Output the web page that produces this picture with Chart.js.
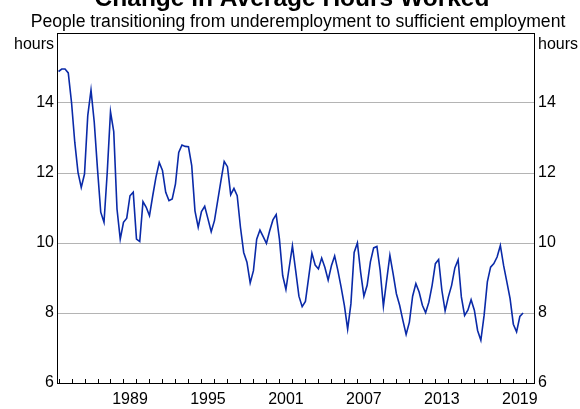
<!DOCTYPE html>
<html>
<head>
<meta charset="utf-8">
<script src="https://cdn.jsdelivr.net/npm/chart.js@4.4.0/dist/chart.umd.min.js"></script>
<style>
  html, body { margin: 0; padding: 0; background: #fff; }
</style>
</head>
<body>
<canvas id="chart" width="580" height="409"></canvas>
<script>
// Quarterly series, March quarter 1984 to December quarter 2019
const firstYear = 1984;
const hours = [
  14.90, 14.97, 14.97, 14.86, 14.02, 12.88, 12.02, 11.59, 11.97, 13.64,
  14.37, 13.45, 12.11, 10.88, 10.59, 12.02, 13.75, 13.18, 10.97, 10.11,
  10.59, 10.71, 11.35, 11.45, 10.11, 10.04, 11.18, 11.02, 10.78, 11.35,
  11.88, 12.30, 12.07, 11.45, 11.21, 11.26, 11.69, 12.59, 12.80, 12.76,
  12.75, 12.21, 10.92, 10.45, 10.90, 11.05, 10.69, 10.32, 10.64, 11.21,
  11.78, 12.33, 12.18, 11.38, 11.56, 11.35, 10.45, 9.73, 9.45, 8.86,
  9.21, 10.11, 10.37, 10.18, 9.99, 10.35, 10.66, 10.81, 10.11, 9.07,
  8.67, 9.30, 9.92, 9.21, 8.48, 8.18, 8.33, 9.02, 9.71, 9.37,
  9.26, 9.57, 9.30, 8.94, 9.35, 9.63, 9.21, 8.73, 8.21, 7.54,
  8.26, 9.73, 10.00, 9.16, 8.48, 8.79, 9.46, 9.86, 9.90, 9.22,
  8.19, 8.93, 9.65, 9.12, 8.55, 8.22, 7.79, 7.39, 7.74, 8.48,
  8.84, 8.60, 8.22, 8.01, 8.31, 8.79, 9.41, 9.53, 8.65, 8.06,
  8.46, 8.79, 9.29, 9.52, 8.46, 7.93, 8.08, 8.38, 8.08, 7.50,
  7.22, 7.93, 8.89, 9.31, 9.41, 9.60, 9.93, 9.36, 8.89, 8.41,
  7.68, 7.46, 7.90, 8.00
];
const yearLabels = [1989, 1995, 2001, 2007, 2013, 2019];
const yTicks = [6, 8, 10, 12, 14];
const yMin = 6, yMax = 16;
const xMin = 1983.96, xMax = 2020.59;

const titleText = 'Change in Average Hours Worked';
const subtitleText = 'People transitioning from underemployment to sufficient employment';
const unitText = 'hours';

const FONT = '"Liberation Sans", Arial, sans-serif';

const points = hours.map((v, i) => ({ x: firstYear + i / 4, y: v }));

// titles, unit labels, year tick marks and the frame
const decorations = {
  id: 'decorations',
  afterDraw(chart) {
    const { ctx, chartArea: a, scales } = chart;
    ctx.save();
    ctx.fillStyle = '#000';
    ctx.textBaseline = 'alphabetic';
    ctx.textAlign = 'center';
    ctx.font = 'bold 24.5px ' + FONT;
    ctx.fillText(titleText, 292, 6);
    ctx.font = '17.6px ' + FONT;
    ctx.fillText(subtitleText, 298, 27);

    ctx.font = '16px ' + FONT;
    ctx.textBaseline = 'middle';
    ctx.textAlign = 'right';
    ctx.fillText(unitText, a.left - 4, 45);
    ctx.textAlign = 'left';
    ctx.fillText(unitText, a.right + 4, 45);

    ctx.strokeStyle = '#000';
    ctx.lineWidth = 1;
    ctx.beginPath();
    for (let yr = Math.ceil(xMin); yr <= Math.floor(xMax); yr++) {
      const px = Math.round(scales.x.getPixelForValue(yr)) + 0.5;
      ctx.moveTo(px, a.bottom);
      ctx.lineTo(px, a.bottom - 4);
    }
    ctx.stroke();
    ctx.strokeRect(a.left - 0.5, a.top + 0.5, a.right - a.left + 1, a.bottom - a.top);
    ctx.restore();
  }
};

const yTickOpts = {
  font: { family: FONT, size: 16 },
  color: '#000',
  padding: 4,
  callback: v => (yTicks.includes(v) ? v : '')
};

new Chart(document.getElementById('chart'), {
  type: 'line',
  data: {
    datasets: [{
      data: points,
      borderColor: '#0a2aa8',
      borderWidth: 1.6,
      pointRadius: 0,
      tension: 0,
      fill: false
    }]
  },
  options: {
    responsive: false,
    animation: false,
    layout: { padding: { top: 33, left: 0, right: 0, bottom: 0 } },
    plugins: { legend: { display: false }, tooltip: { enabled: false } },
    scales: {
      x: {
        type: 'linear',
        min: xMin,
        max: xMax,
        afterBuildTicks: s => { s.ticks = yearLabels.map(y => ({ value: y + 0.5 })); },
        afterFit: s => { s.height = 26; },
        grid: { display: false },
        border: { display: false },
        ticks: {
          font: { family: FONT, size: 16 },
          color: '#000',
          padding: -1,
          maxRotation: 0,
          autoSkip: false,
          callback: v => Math.floor(v)
        }
      },
      y: {
        position: 'left',
        min: yMin,
        max: yMax,
        afterBuildTicks: s => { s.ticks = [6, 8, 10, 12, 14, 16].map(v => ({ value: v })); },
        afterFit: s => { s.width = 58; },
        grid: { color: '#b4b4b4', drawTicks: false, lineWidth: 1 },
        border: { display: false },
        ticks: yTickOpts
      },
      y2: {
        position: 'right',
        min: yMin,
        max: yMax,
        afterBuildTicks: s => { s.ticks = [6, 8, 10, 12, 14, 16].map(v => ({ value: v })); },
        afterFit: s => { s.width = 46; },
        grid: { display: false, drawTicks: false },
        border: { display: false },
        ticks: yTickOpts
      }
    }
  },
  plugins: [decorations]
});
</script>
</body>
</html>
